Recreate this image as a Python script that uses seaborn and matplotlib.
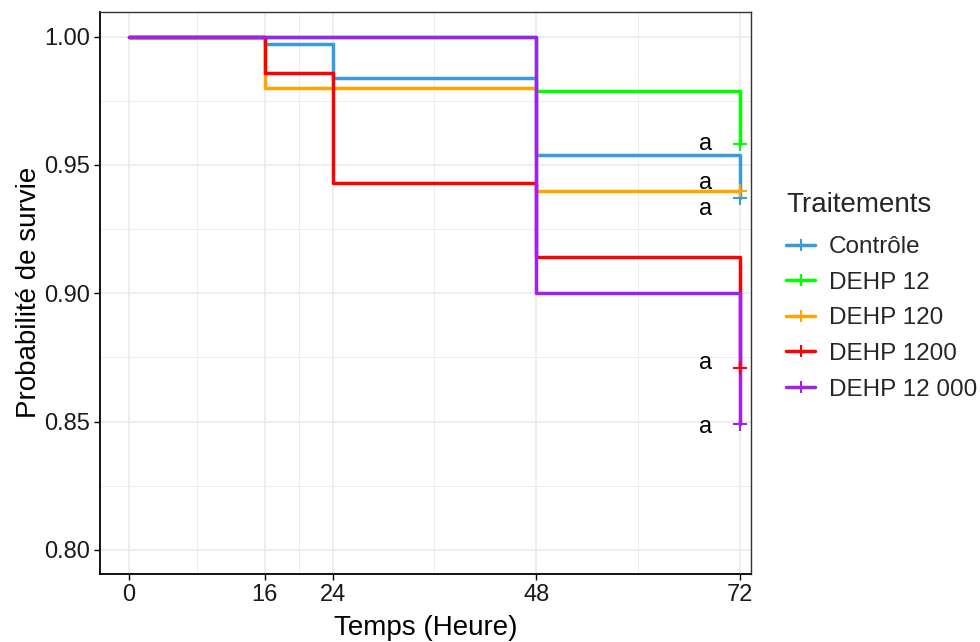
import matplotlib
matplotlib.use("Agg")
import matplotlib.pyplot as plt
from matplotlib.lines import Line2D
import seaborn as sns
import pandas as pd

# Kaplan-Meier step curves: event times (hours) and survival after each step
groups = ["Contrôle", "DEHP 12", "DEHP 120", "DEHP 1200", "DEHP 12 000"]
colors = ["#3A9BDC", "#00FF00", "#FFA500", "#FF0000", "#A020F0"]

times_ctrl = [0, 16, 24, 48, 72]
surv_ctrl = [1.000, 0.997, 0.984, 0.954, 0.937]
times_d12 = [0, 48, 72]
surv_d12 = [1.000, 0.979, 0.958]
times_d120 = [0, 16, 48, 72]
surv_d120 = [1.000, 0.980, 0.940, 0.940]
times_d1200 = [0, 16, 24, 48, 72]
surv_d1200 = [1.000, 0.986, 0.943, 0.914, 0.871]
times_d12000 = [0, 48, 72]
surv_d12000 = [1.000, 0.900, 0.849]

# significance letters shown beside the curve ends
letter_x = 68
letter_y = [0.958, 0.943, 0.933, 0.873, 0.848]
letters = ["a", "a", "a", "a", "a"]

x_ticks = [0, 16, 24, 48, 72]
y_ticks = [0.80, 0.85, 0.90, 0.95, 1.00]

all_times = [times_ctrl, times_d12, times_d120, times_d1200, times_d12000]
all_surv = [surv_ctrl, surv_d12, surv_d120, surv_d1200, surv_d12000]

rows = []
for g, ts, ss in zip(groups, all_times, all_surv):
    for t, s in zip(ts, ss):
        rows.append({"Temps": t, "Survie": s, "Traitements": g})
df = pd.DataFrame(rows)
ends = df.groupby("Traitements", sort=False).tail(1)

sns.set_theme(style="white")
plt.rcParams["font.family"] = ["Liberation Sans", "DejaVu Sans"]

fig = plt.figure(figsize=(9.8, 6.42), dpi=100)
ax = fig.add_axes([100 / 980, 1 - 574 / 642, 651 / 980, 562.5 / 642])

palette = dict(zip(groups, colors))
sns.lineplot(data=df, x="Temps", y="Survie", hue="Traitements", hue_order=groups,
             palette=palette, estimator=None, drawstyle="steps-post",
             linewidth=2.5, legend=False, ax=ax, zorder=3)
sns.scatterplot(data=ends, x="Temps", y="Survie", hue="Traitements", hue_order=groups,
                palette=palette, marker="+", s=90, linewidth=1.5, legend=False,
                ax=ax, zorder=4)

for yv, lab in zip(letter_y, letters):
    ax.text(letter_x, yv, lab, ha="center", va="center", fontsize=17,
            color="black", zorder=5)

ax.set_xlim(-3.42, 73.3)
ax.set_ylim(0.7906, 1.0098)
ax.set_xticks(x_ticks)
ax.set_xticklabels([str(v) for v in x_ticks])
ax.set_yticks(y_ticks)
ax.set_yticklabels([f"{v:.2f}" for v in y_ticks])
ax.set_xticks([8, 20, 36, 60], minor=True)
ax.set_yticks([0.825, 0.875, 0.925, 0.975], minor=True)

ax.grid(True, which="major", color="#EBEBEB", linewidth=1.2, zorder=0)
ax.grid(True, which="minor", color="#EDEDED", linewidth=0.7, zorder=0)
ax.set_axisbelow(True)

for side in ["left", "bottom"]:
    ax.spines[side].set_color("black")
    ax.spines[side].set_linewidth(1.3)
for side in ["top", "right"]:
    ax.spines[side].set_color("#333333")
    ax.spines[side].set_linewidth(1.0)

ax.tick_params(axis="both", which="major", direction="out", length=4, width=1.0,
               color="black", labelsize=17, labelcolor="#1A1A1A", pad=3,
               bottom=True, left=True)
ax.tick_params(axis="both", which="minor", length=0)

ax.set_xlabel("Temps (Heure)", fontsize=20, color="black", labelpad=7)
ax.set_ylabel("Probabilité de survie", fontsize=20, color="black", labelpad=2)

handles = [Line2D([0], [0], color=c, linewidth=2.5, marker="+", markersize=9,
                  markeredgewidth=1.5) for c in colors]
leg = fig.legend(handles, groups, title="Traitements", loc="upper left",
                 bbox_to_anchor=(786 / 980, 1 - 192 / 642), frameon=False,
                 fontsize=17.5, title_fontsize=20, handlelength=1.2,
                 handletextpad=0.55, labelspacing=0.56, borderpad=0,
                 borderaxespad=0, alignment="left")
leg._legend_box.sep = 13

fig.savefig("out.png", dpi=100)
